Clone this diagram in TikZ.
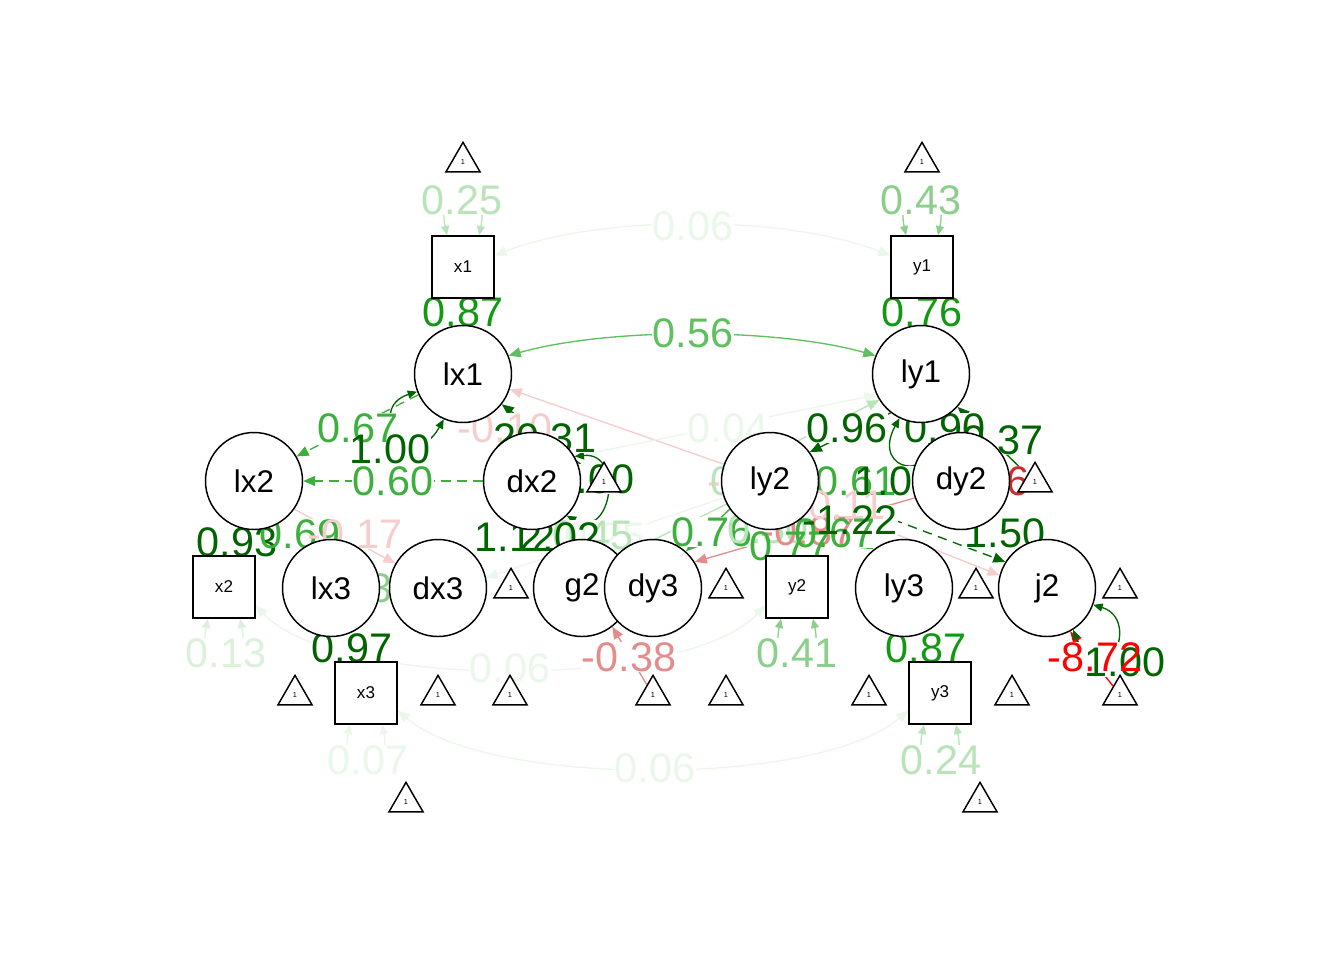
\documentclass[tikz,border=0pt]{standalone}
\usepackage{fontspec}
\setmainfont{Liberation Sans}
\usetikzlibrary{arrows.meta,shapes.geometric,calc}
\pgfdeclarelayer{bgfill}\pgfdeclarelayer{edges}\pgfdeclarelayer{labbg}\pgfdeclarelayer{labtx}
\pgfsetlayers{bgfill,edges,labbg,labtx,main}
\definecolor{cdk}{RGB}{0,100,0}
\definecolor{c1}{RGB}{17,153,17}
\definecolor{c2}{RGB}{60,176,60}
\definecolor{c3}{RGB}{95,192,95}
\definecolor{c4}{RGB}{140,207,140}
\definecolor{c5}{RGB}{185,227,185}
\definecolor{c6}{RGB}{220,240,220}
\definecolor{c7}{RGB}{235,247,235}
\definecolor{c1r}{RGB}{255,0,0}
\definecolor{c2r}{RGB}{205,45,45}
\definecolor{c3r}{RGB}{228,140,140}
\definecolor{c4r}{RGB}{245,205,205}
\tikzset{
 lat/.style={circle,draw=black,fill=white,line width=1.1pt,minimum size=72.75pt,inner sep=0pt,font=\fontsize{23.5}{24}\selectfont},
 man/.style={rectangle,draw=black,fill=white,line width=1.1pt,minimum size=46.5pt,inner sep=0pt,font=\fontsize{12.8}{13}\selectfont},
 tri/.style={regular polygon,regular polygon sides=3,draw=black,fill=white,line width=1.1pt,minimum size=29.5pt,inner sep=0pt,font=\fontsize{5.5}{6}\selectfont},
 lbl/.style={inner sep=0.5pt,font=\fontsize{31}{31}\selectfont},
 edge/.style={line width=1pt,-{Triangle[length=9pt,width=7.5pt]}},
 biedge/.style={line width=1pt,{Triangle[length=9pt,width=7.5pt]}-{Triangle[length=9pt,width=7.5pt]}},
 loopedge/.style={line width=1pt,{Triangle[length=7pt,width=6pt]}-{Triangle[length=7pt,width=6pt]}},
 dsh/.style={dash pattern=on 7pt off 5pt},
}
\newcommand\elab[4]{%
 \begin{pgfonlayer}{labbg}\node[lbl,fill=white,text opacity=0] (#1bg) at (#2) {#4};\end{pgfonlayer}%
 \begin{pgfonlayer}{labtx}\node[lbl,text=#3] (#1) at (#2) {#4};\end{pgfonlayer}}
\begin{document}
\begin{tikzpicture}[x=0.75pt,y=-0.75pt]
\begin{pgfonlayer}{bgfill}
\fill[white] (0,0) rectangle (1344,960);
\end{pgfonlayer}
\useasboundingbox (0,0) rectangle (1344,960);
% manifest
\node[man] (x1) at (463,267) {x1};
\node[man] (y1) at (922,267) {y1};
\node[man] (x2) at (224,587) {x2};
\node[man] (y2) at (797,587) {y2};
\node[man] (x3) at (366,693) {x3};
\node[man] (y3) at (940,693) {y3};
% latent
\node[lat] (lx1) at (463,374) {lx1};
\node[lat] (ly1) at (921,374) {ly1};
\node[lat] (lx2) at (254,481) {lx2};
\node[lat] (dx2) at (532,481) {dx2};
\node[lat] (ly2) at (770,481) {ly2};
\node[lat] (dy2) at (961,481) {dy2};
\node[lat] (lx3) at (331,588) {lx3};
\node[lat] (dx3) at (438,588) {dx3};
\node[lat] (g2) at (582,588) {g2};
\node[lat] (dy3) at (653,588) {dy3};
\node[lat] (ly3) at (904,588) {ly3};
\node[lat] (j2) at (1047,588) {j2};
% triangles
\node[tri] (t1) at (463,162) {1};
\node[tri] (t2) at (922,162) {1};
\node[tri] (t3) at (604,482) {1};
\node[tri] (t4) at (1035,482) {1};
\node[tri] (t5) at (511,588) {1};
\node[tri] (t6) at (726,588) {1};
\node[tri] (t7) at (976,588) {1};
\node[tri] (t8) at (1120,588) {1};
\node[tri] (t9) at (295,695) {1};
\node[tri] (t10) at (438,695) {1};
\node[tri] (t11) at (510,695) {1};
\node[tri] (t12) at (653,695) {1};
\node[tri] (t13) at (726,695) {1};
\node[tri] (t14) at (869,695) {1};
\node[tri] (t15) at (1012,695) {1};
\node[tri] (t16) at (1120,695) {1};
\node[tri] (t17) at (406,802) {1};
\node[tri] (t18) at (980,802) {1};
\begin{pgfonlayer}{edges}
% covariances
\draw[biedge,c7] (x1.20) .. controls +(106,-41) and +(-106,-41) .. (y1.160);
\draw[biedge,c3] (lx1.22) .. controls +(100,-28) and +(-100,-28) .. (ly1.158);
\draw[biedge,c7] (x3.-29) .. controls +(90,77) and +(-90,77) .. (y3.209);
\draw[biedge,c7] (x2.-30) .. controls +(80,85) and +(-80,85) .. (y2.210);
% loadings
\draw[edge,c1] (lx1) -- (x1);
\draw[edge,c1] (ly1) -- (y1);
\draw[edge,cdk] (lx2) -- (x2);
\draw[edge,cdk] (lx3) -- (x3);
\draw[edge,c1] (ly3) -- (y3);
\draw[edge,c2] (ly2) -- (y2);
% residual loops
\draw[loopedge,c5] ($(x1.north)+(-16,0)$) .. controls +(-12,-56) and +(12,-56) .. ($(x1.north)+(16,0)$);
\draw[loopedge,c4] ($(y1.north)+(-16,0)$) .. controls +(-12,-56) and +(12,-56) .. ($(y1.north)+(16,0)$);
\draw[loopedge,c6] ($(x2.south)+(-16,0)$) .. controls +(-12,56) and +(12,56) .. ($(x2.south)+(16,0)$);
\draw[loopedge,c4] ($(y2.south)+(-16,0)$) .. controls +(-12,56) and +(12,56) .. ($(y2.south)+(16,0)$);
\draw[loopedge,c7] ($(x3.south)+(-16,0)$) .. controls +(-12,56) and +(12,56) .. ($(x3.south)+(16,0)$);
\draw[loopedge,c5] ($(y3.south)+(-16,0)$) .. controls +(-12,56) and +(12,56) .. ($(y3.south)+(16,0)$);
% structural
\draw[edge,c2,dsh] (lx1.205) -- (lx2.30);
\draw[edge,c2,dsh] (dx2) -- (lx2);
\draw[edge,c2] (lx2) -- (lx3);
\draw[edge,c4r] (lx2.-35) -- (dx3.150);
\draw[edge,cdk] (t3) -- (lx1.-38);
\draw[edge,c4r] (ly2.160) -- (lx1.-18);
\draw[edge,c7] (dx2.30) -- (ly1.205);
\draw[edge,c5] (ly2.55) -- (ly1.212);
\draw[edge,cdk] (ly1.232) -- (ly2.36);
\draw[edge,c2] (dy2) -- (ly2);
\draw[edge,cdk] (t4) -- (ly1.-42);
\draw[edge,c2r] (dy2.-52) -- (j2.100);
\draw[edge,cdk,dsh] (ly2.-12) -- (j2.148);
\draw[edge,c4r] (ly2.-25) -- (j2.165);
\draw[edge,c3r] (dy2.200) -- (dy3.32);
\draw[edge,c2] (ly2.215) -- (dy3.48);
\draw[edge,c2] (ly2.-42) -- (ly3.128);
\draw[edge,c7] (ly2.200) -- (dx3.12);
\draw[edge,c5] (ly2.208) -- (g2.40);
\draw[edge,c3r] (t12) -- (g2.-52);
\draw[edge,c1r] (t16) -- (j2.-62);
% latent variance loops
\draw[loopedge,cdk] (lx1.201) .. controls +(-53,17) and +(-32,57) .. (lx1.247);
\draw[loopedge,cdk] (dx2.30) .. controls +(50,-5) and +(45,25) .. (dx2.-45);
\draw[loopedge,cdk] (ly1.244) .. controls +(-30,55) and +(15,60) .. (ly1.275);
\draw[loopedge,cdk] (j2.-58) .. controls +(30,75) and +(50,15) .. (j2.-20);
\end{pgfonlayer}
% labels
\elab{l1}{462,200}{c5}{0.25}
\elab{l2}{921,200}{c4}{0.43}
\elab{l3}{693,226}{c7}{0.06}
\elab{l4}{463,312}{c1}{0.87}
\elab{l5}{922,312}{c1}{0.76}
\elab{l6}{693,333}{c3}{0.56}
\elab{l7}{358,428}{c2}{0.67}
\elab{l8}{390,449}{cdk}{1.00}
\elab{l9}{505,428}{c4r}{-0.10}
\elab{l10}{545,438}{cdk}{20.31}
\elab{l11}{393,481}{c2}{0.60}
\elab{l12}{594,479}{cdk}{1.00}
\elab{l13}{728,428}{c7}{0.04}
\elab{l14}{847,428}{cdk}{0.96}
\elab{l15}{945,428}{cdk}{0.90}
\elab{l16}{1003,440}{cdk}{0.37}
\elab{l17}{856,481}{c2}{0.61}
\elab{l18}{895,481}{cdk}{1.00}
\elab{l19}{982,481}{c2r}{-0.46}
\elab{l20}{755,481}{c4r}{-0.05}
\elab{l20b}{751,481}{c5}{0.05}
\elab{l21}{712,532}{c2}{0.76}
\elab{l22}{768,529}{c5}{0.50}
\elab{l23}{808,531}{c3r}{-0.87}
\elab{l27}{840,505}{c4r}{-0.11}
\elab{l24}{790,546}{c2}{0.77}
\elab{l25}{835,533}{c2}{0.67}
\elab{l26}{850,520}{cdk}{-1.22}
\elab{l28}{1005,533}{cdk}{1.50}
\elab{l29}{237,542}{cdk}{0.93}
\elab{l30}{300,534}{c2}{0.69}
\elab{l31}{355,534}{c4r}{-0.17}
\elab{l32}{352,588}{c4}{0.33}
\elab{l36}{605,537}{c7}{0.25}
\elab{l35}{593,535}{c5}{0.45}
\elab{l33}{515,537}{cdk}{1.12}
\elab{l34}{560,537}{cdk}{2.02}
\elab{l37}{352,648}{cdk}{0.97}
\elab{l38}{226,653}{c6}{0.13}
\elab{l39}{510,668}{c7}{0.06}
\elab{l40}{629,657}{c3r}{-0.38}
\elab{l41}{797,653}{c4}{0.41}
\elab{l42}{926,648}{c1}{0.87}
\elab{l44}{1125,662}{cdk}{1.00}
\elab{l43}{1095,657}{c1r}{-8.72}
\elab{l45}{368,760}{c7}{0.07}
\elab{l46}{655,768}{c7}{0.06}
\elab{l47}{941,760}{c5}{0.24}
\end{tikzpicture}
\end{document}
